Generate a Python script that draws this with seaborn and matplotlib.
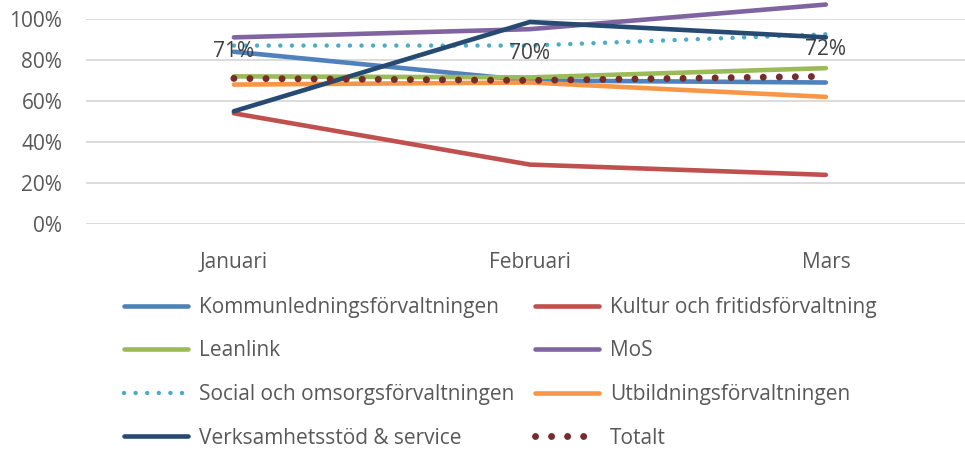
import matplotlib
matplotlib.use("Agg")
import matplotlib.pyplot as plt
import seaborn as sns
import pandas as pd
from matplotlib.lines import Line2D

months = ["Januari", "Februari", "Mars"]
series = ["Kommunledningsförvaltningen", "Kultur och fritidsförvaltning", "Leanlink", "MoS",
          "Social och omsorgsförvaltningen", "Utbildningsförvaltningen",
          "Verksamhetsstöd & service", "Totalt"]
kommun = [0.84, 0.70, 0.69]
kultur = [0.54, 0.29, 0.24]
leanlink = [0.72, 0.715, 0.76]
mos = [0.91, 0.95, 1.07]
social = [0.87, 0.87, 0.925]
utbildning = [0.68, 0.69, 0.62]
verksamhet = [0.55, 0.985, 0.91]
totalt = [0.71, 0.70, 0.72]
total_labels = ["71%", "70%", "72%"]
colors = ["#4F81BD", "#C0504D", "#9BBB59", "#8064A2", "#4BACC6", "#F79646", "#264A72", "#772C2A"]

values = [kommun, kultur, leanlink, mos, social, utbildning, verksamhet, totalt]
df = pd.DataFrame({
    "month": months * len(series),
    "x": list(range(len(months))) * len(series),
    "series": [s for s in series for _ in months],
    "value": [v for vals in values for v in vals],
})

sns.set_style("white")
plt.rcParams['font.family'] = ['Open Sans', 'DejaVu Sans']

fig = plt.figure(figsize=(9.65, 4.5), dpi=100)
ax = fig.add_axes([0.089, 0.502, 0.911, 0.456])

sns.lineplot(data=df, x="x", y="value", hue="series", hue_order=series, palette=colors,
             sort=False, legend=False, ax=ax, linewidth=3.3)

dotted = {"Social och omsorgsförvaltningen": (3.2, (0, (0.01, 2.6))),
          "Totalt": (5.0, (0, (0.01, 2.3)))}

for i, line in enumerate(ax.lines):
    line.set_clip_on(False)
    line.set_solid_capstyle("round")
    if series[i] in dotted:
        lw, ls = dotted[series[i]]
        line.set_linewidth(lw)
        line.set_dash_capstyle("round")
        line.set_linestyle(ls)

for i, lab in enumerate(total_labels):
    ax.annotate(lab, (i, totalt[i]), xytext=(0, 12), textcoords="offset points",
                ha="center", va="bottom", fontsize=15, color="#404040")

ax.set_xlim(-0.5, 2.47)
ax.set_ylim(0, 1.0)
ax.set_yticks([0, 0.2, 0.4, 0.6, 0.8, 1.0])
ax.set_yticklabels(["0%", "20%", "40%", "60%", "80%", "100%"])
ax.set_xticks(range(len(months)))
ax.set_xticklabels(months)
ax.tick_params(axis="both", length=0, labelsize=15, labelcolor="#595959")
ax.tick_params(axis="x", pad=20)
ax.tick_params(axis="y", pad=17)
ax.grid(axis="y", color="#D9D9D9", linewidth=1.3)
ax.set_axisbelow(True)
for sp in ax.spines.values():
    sp.set_visible(False)
ax.set_xlabel("")
ax.set_ylabel("")

# legend, filled column by column
order = [0, 2, 4, 6, 1, 3, 5, 7]
handles = []
for i in order:
    h = Line2D([0], [0], color=colors[i], linewidth=3.3,
               solid_capstyle="round", dash_capstyle="round")
    if series[i] in dotted:
        lw, ls = dotted[series[i]]
        h.set_linewidth(lw)
        h.set_linestyle(ls)
    handles.append(h)
fig.legend(handles, [series[i] for i in order], ncol=2, loc="upper left",
           bbox_to_anchor=(0.128, 0.340), frameon=False, fontsize=15, labelcolor="#595959",
           handlelength=3.1, handletextpad=0.5, columnspacing=1.0, labelspacing=1.08,
           borderpad=0, borderaxespad=0)

fig.savefig("out.png", dpi=100)
